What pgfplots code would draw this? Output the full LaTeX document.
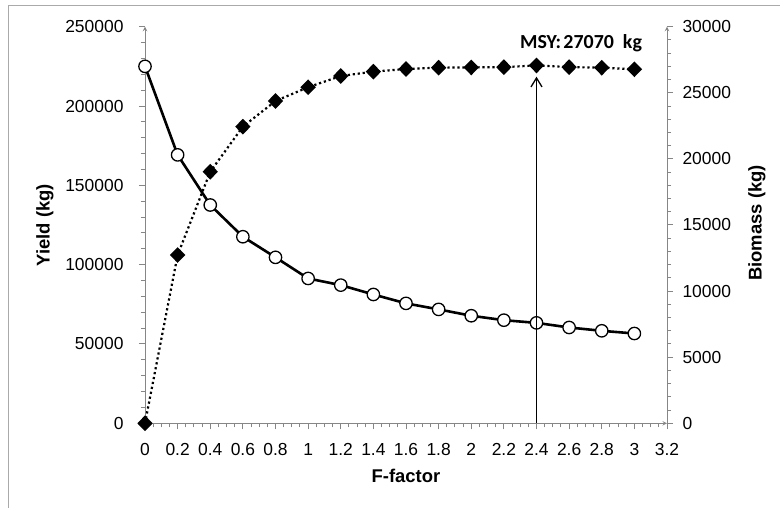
\documentclass[border=0pt]{standalone}
\usepackage{fontspec}
\setmainfont{Liberation Sans}
\newfontfamily\calibri{Carlito}
\usepackage{pgfplots}
\pgfplotsset{compat=1.18}
\usetikzlibrary{arrows.meta}
\definecolor{axgray}{RGB}{134,134,134}
\definecolor{framegray}{RGB}{170,170,170}
\newcommand\tickfont{\fontsize{17.5}{20}\selectfont}
\newcommand\labfont{\fontsize{18.5}{22}\selectfont\bfseries}
\begin{document}
\begin{tikzpicture}
\useasboundingbox (0,0) rectangle (780bp,508bp);
\draw[framegray, line width=1bp] (8bp,0) -- (8bp,502bp) -- (780bp,502bp);
\pgfplotsset{
 common/.style={
  at={(145bp,84.7bp)}, anchor=south west,
  scale only axis, width=522bp, height=396.6bp,
  xmin=0, xmax=3.2,
  tick label style={font=\tickfont},
  /pgf/number format/assume math mode=true,
  major tick length=6bp, minor tick length=4bp,
  tick style={axgray, line width=1bp},
  axis line style={axgray, line width=1bp, -},
  scaled y ticks=false,
  yticklabel style={/pgf/number format/fixed, /pgf/number format/1000 sep={}},
  clip=false,
 }
}
\begin{axis}[common,
  axis x line=bottom, axis y line=left,
  tick align=outside,
  ymin=0, ymax=250000,
  ytick={0,50000,100000,150000,200000,250000},
  minor y tick num=4,
  xtick={0,0.2,0.4,0.6,0.8,1,1.2,1.4,1.6,1.8,2,2.2,2.4,2.6,2.8,3,3.2},
  xticklabels={0,0.2,0.4,0.6,0.8,1,1.2,1.4,1.6,1.8,2,2.2,2.4,2.6,2.8,3,3.2},
  minor x tick num=3,
  yticklabel style={xshift=-12bp},
  xticklabel style={yshift=-11bp},
  xlabel={F-factor},
  ylabel={Yield (kg)},
  xlabel style={at={(axis description cs:0.5,-0.1329)}, anchor=center, font=\labfont},
  ylabel style={at={(axis description cs:-0.1916,0.5)}, anchor=center, font=\labfont},
]
\addplot[black, line width=2.6bp, mark=*, mark size=6.2bp,
  mark options={solid, fill=white, draw=black, line width=1.3bp}]
coordinates {
(0,225000) (0.2,169200) (0.4,137600) (0.6,117600) (0.8,104600)
(1.0,91300) (1.2,87100) (1.4,81200) (1.6,75600) (1.8,71800)
(2.0,67800) (2.2,65000) (2.4,63300) (2.6,60400) (2.8,58300) (3.0,56600)
};
\end{axis}
\begin{axis}[common,
  axis y line=right, axis x line=none,
  tick align=outside,
  ymin=0, ymax=30000,
  ytick={0,5000,10000,15000,20000,25000,30000},
  minor y tick num=4,
  yticklabel style={xshift=6bp},
  ylabel={Biomass (kg)},
  ylabel style={at={(axis description cs:1.1724,0.505)}, anchor=center, font=\labfont},
]
\addplot[black, line width=2.2bp, dash pattern={on 2.2bp off 2.8bp}, mark=diamond*, mark size=6.3bp,
  mark options={solid, fill=black, xscale=1.3}]
coordinates {
(0,0) (0.2,12730) (0.4,19030) (0.6,22440) (0.8,24380)
(1.0,25420) (1.2,26270) (1.4,26600) (1.6,26800) (1.8,26900)
(2.0,26920) (2.2,26940) (2.4,27070) (2.6,26940) (2.8,26900) (3.0,26780)
};
\draw[black, line width=1.3bp, -{Straight Barb[length=9bp,width=11bp]}] (axis cs:2.4,0) -- (axis cs:2.4,26218);
\node[font=\calibri\bfseries\fontsize{20}{24}\selectfont] at (axis cs:2.673,28730) {MSY:\hspace{0.12em}27070\hspace{0.45em}kg};
\end{axis}
\end{tikzpicture}
\end{document}
